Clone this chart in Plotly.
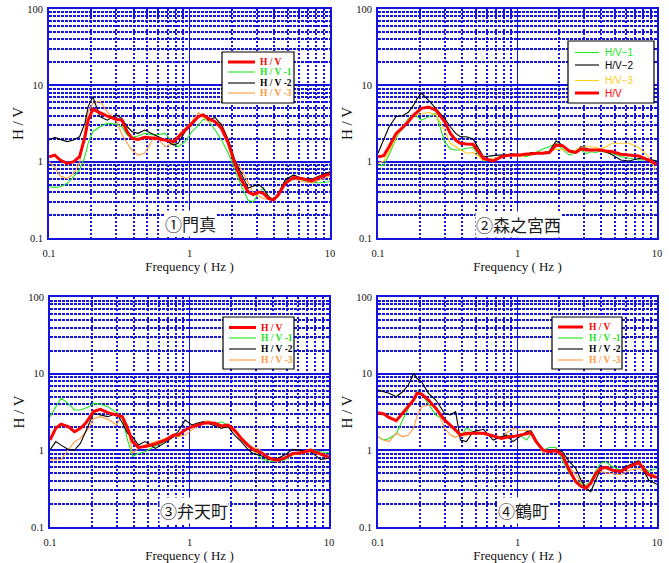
import plotly.graph_objects as go

W, H = 669, 563

# ---------------- data ----------------
freq = [0.10, 0.11, 0.12, 0.135, 0.15, 0.165, 0.18, 0.19, 0.205, 0.23, 0.26, 0.30, 0.33,
        0.36, 0.39, 0.43, 0.48, 0.57, 0.67, 0.77, 0.83, 0.93, 1.04, 1.16, 1.25, 1.36, 1.52,
        1.69, 1.89, 2.1, 2.35, 2.62, 2.85, 3.1, 3.35, 3.65, 3.95, 4.3, 4.8, 5.5, 6.3, 7.4,
        8.7, 10]

# Panel 1  門真
p1_hv = [1.16, 1.22, 1.05, 0.95, 1.0, 1.16, 2.1, 3.5, 4.85, 4.4, 3.96, 3.6, 3.5, 2.47, 2.02,
         1.96, 2.08, 2.02, 1.92, 1.83, 2.08, 2.6, 3.17, 3.9, 4.1, 3.7, 3.34, 2.73, 1.74, 0.95,
         0.57, 0.40, 0.37, 0.40, 0.385, 0.33, 0.315, 0.37, 0.52, 0.62, 0.6, 0.56, 0.64, 0.69]
p1_hv1 = [0.47, 0.46, 0.47, 0.52, 0.64, 0.78, 1.16, 1.74, 2.47, 2.87, 3.17, 3.1, 2.87, 2.23,
          2.08, 2.17, 2.35, 2.23, 2.35, 1.74, 1.57, 1.83, 2.47, 3.02, 3.58, 3.5, 2.6, 1.92,
          1.29, 0.78, 0.47, 0.31, 0.30, 0.385, 0.45, 0.35, 0.315, 0.385, 0.55, 0.62, 0.575,
          0.53, 0.53, 0.55]
p1_hv2 = [1.92, 2.08, 1.96, 1.83, 1.92, 2.12, 3.17, 5.26, 7.1, 3.9, 3.5, 4.08, 3.7, 2.87, 2.47,
          2.35, 2.6, 2.23, 1.92, 1.65, 1.74, 2.47, 3.02, 3.9, 4.2, 3.5, 3.8, 3.02, 1.92, 1.05,
          0.67, 0.45, 0.48, 0.5, 0.45, 0.35, 0.315, 0.385, 0.575, 0.67, 0.6, 0.59, 0.67, 0.74]
p1_hv3 = [1.0, 0.85, 0.65, 0.6, 0.7, 0.95, 2.5, 4.5, 5.8, 6.2, 4.5, 3.5, 2.3, 1.74, 1.42, 1.22,
          1.29, 2.23, 1.57, 1.74, 2.23, 2.73, 3.34, 4.4, 3.9, 3.34, 3.34, 3.17, 1.92, 1.05,
          0.78, 0.52, 0.39, 0.355, 0.33, 0.32, 0.31, 0.35, 0.52, 0.6, 0.55, 0.53, 0.59, 0.64]

# Panel 2  森之宮西
p2_hv = [1.16, 1.2, 1.57, 2.35, 2.79, 3.34, 4.08, 4.43, 5.0, 5.2, 4.75, 3.34, 2.35, 1.92, 1.74,
         1.7, 1.69, 1.1, 1.02, 1.16, 1.2, 1.22, 1.22, 1.26, 1.26, 1.29, 1.29, 1.32, 1.65, 1.62,
         1.38, 1.32, 1.47, 1.42, 1.42, 1.39, 1.42, 1.38, 1.35, 1.25, 1.22, 1.19, 1.05, 0.92]
p2_hv1 = [0.89, 0.9, 1.22, 2.02, 2.87, 3.7, 4.08, 3.9, 3.5, 3.9, 4.3, 1.83, 1.47, 1.42, 1.42,
          1.5, 1.53, 1.02, 1.05, 1.16, 1.16, 1.22, 1.22, 1.16, 1.22, 1.32, 1.47, 1.57, 1.74,
          1.47, 1.22, 1.32, 1.42, 1.27, 1.35, 1.32, 1.38, 1.32, 1.29, 1.16, 1.1, 1.05, 1.05, 0.95]
p2_hv2 = [1.29, 1.92, 2.87, 3.9, 4.0, 4.43, 5.5, 6.6, 7.9, 6.4, 5.0, 3.7, 2.87, 2.35, 2.12,
          2.12, 1.98, 1.16, 1.2, 1.22, 1.24, 1.26, 1.24, 1.22, 1.32, 1.32, 1.32, 1.37, 1.87,
          1.65, 1.35, 1.35, 1.57, 1.5, 1.42, 1.42, 1.39, 1.35, 1.22, 1.05, 1.02, 1.1, 1.08, 1.02]
p2_hv3 = [0.95, 1.02, 1.35, 2.12, 2.87, 3.5, 4.0, 4.08, 4.16, 4.43, 4.08, 2.6, 1.74, 1.57, 1.42,
          1.29, 1.32, 1.05, 1.1, 1.16, 1.2, 1.2, 1.16, 1.22, 1.25, 1.29, 1.32, 1.35, 1.47, 1.42,
          1.38, 1.42, 1.53, 1.57, 1.57, 1.53, 1.47, 1.57, 1.74, 1.74, 1.74, 1.53, 1.16, 0.74]

# Panel 3  弁天町
p3_hv = [1.36, 1.94, 2.2, 2.04, 1.75, 1.94, 2.25, 2.6, 3.2, 3.43, 3.1, 2.89, 2.75, 1.94, 1.3,
         1.09, 1.12, 1.21, 1.36, 1.58, 1.58, 1.84, 2.04, 2.14, 2.25, 2.29, 2.25, 2.08, 2.14,
         1.84, 1.43, 1.17, 1.03, 0.96, 0.91, 0.81, 0.76, 0.75, 0.79, 0.91, 0.93, 1.01, 0.9, 0.81]
p3_hv1 = [2.75, 3.7, 4.77, 4.1, 3.36, 3.36, 3.52, 3.7, 4.1, 4.0, 3.7, 3.1, 2.61, 1.36, 0.83,
          0.91, 0.96, 1.14, 1.3, 1.51, 1.58, 1.84, 2.04, 2.2, 2.36, 2.29, 2.2, 2.36, 2.14, 1.88,
          1.43, 1.17, 1.01, 0.87, 0.76, 0.73, 0.71, 0.73, 0.75, 0.87, 0.96, 1.03, 0.96, 0.93]
p3_hv2 = [1.01, 1.3, 1.17, 1.03, 1.01, 1.23, 1.75, 2.25, 3.04, 2.89, 2.75, 3.04, 2.29, 1.67,
          1.51, 1.17, 1.3, 1.06, 1.26, 1.51, 1.75, 2.49, 2.14, 2.29, 2.36, 2.25, 2.1, 1.94, 2.04,
          1.58, 1.3, 1.03, 0.91, 0.87, 0.84, 0.76, 0.76, 0.79, 0.87, 1.03, 0.99, 0.96, 0.76, 0.79]
p3_hv3 = [0.75, 0.76, 0.76, 1.01, 1.3, 1.43, 1.75, 1.94, 2.61, 2.75, 2.54, 2.14, 2.89, 2.04,
          0.91, 1.06, 1.17, 1.3, 1.43, 1.51, 1.51, 1.58, 1.84, 2.08, 2.36, 2.43, 2.2, 1.94, 2.04,
          1.75, 1.43, 1.2, 1.09, 1.06, 0.93, 0.81, 0.75, 0.71, 0.81, 0.87, 0.91, 0.96, 0.87, 0.87]

# Panel 4  鶴町
p4_hv = [3.1, 2.98, 2.69, 2.44, 3.04, 3.71, 4.53, 5.54, 5.43, 4.53, 3.53, 2.49, 2.14, 1.84,
         1.58, 1.67, 1.67, 1.67, 1.54, 1.43, 1.48, 1.51, 1.58, 1.67, 1.7, 1.3, 1.01, 0.96, 0.99,
         0.87, 0.55, 0.39, 0.34, 0.32, 0.37, 0.5, 0.58, 0.6, 0.55, 0.53, 0.61, 0.69, 0.48, 0.44]
p4_hv1 = [1.51, 1.36, 1.43, 1.63, 2.49, 3.53, 5.0, 5.8, 5.54, 4.1, 2.89, 2.49, 2.08, 1.75, 1.51,
          1.94, 1.75, 1.7, 1.58, 1.48, 1.58, 1.54, 1.58, 1.36, 1.63, 1.3, 1.0, 1.09, 1.09, 0.75,
          0.5, 0.41, 0.37, 0.35, 0.4, 0.55, 0.68, 0.71, 0.61, 0.55, 0.62, 0.68, 0.53, 0.58]
p4_hv2 = [6.1, 5.8, 5.54, 5.0, 5.8, 7.1, 10.1, 8.7, 7.9, 5.54, 4.53, 3.04, 2.89, 3.19, 1.36, 1.3,
          1.75, 1.88, 1.36, 1.51, 1.58, 1.3, 1.51, 1.75, 1.8, 1.36, 1.01, 0.99, 1.03, 0.96, 0.71,
          0.58, 0.41, 0.32, 0.29, 0.41, 0.58, 0.58, 0.55, 0.55, 0.64, 0.73, 0.41, 0.36]
p4_hv3 = [1.51, 1.36, 1.3, 1.67, 1.51, 1.58, 1.94, 2.75, 3.71, 3.9, 3.71, 1.94, 1.58, 1.48, 1.58,
          1.54, 1.75, 1.7, 1.54, 1.43, 1.67, 1.94, 1.8, 1.84, 1.8, 1.3, 0.93, 0.96, 1.01, 0.83,
          0.61, 0.48, 0.39, 0.34, 0.38, 0.48, 0.53, 0.51, 0.5, 0.48, 0.55, 0.58, 0.48, 0.48]

panel_titles = ["①門真", "②森之宮西", "③弁天町", "④鶴町"]
names_serif = ["H / V", "H / V -1", "H / V -2", "H / V -3"]
names_sans = ["H/V−1", "H/V−2", "H/V−3", "H/V"]
x_ticks = [0.1, 1, 10]
y_ticks = [0.1, 1, 10, 100]

# ---------------- styles ----------------
RED, GREEN, BLACK, ORANGE, YELLOW = "#ff0000", "#22e622", "#000000", "#ff9a3c", "#ffcc1a"
GRID = "#1414dc"
SERIF = "Liberation Serif"
SANS = "Liberation Sans"
CJK = "Noto Sans CJK JP"

# series per panel: (name, values, color, width)  -- listed in legend order
panels = [
    dict(series=[(names_serif[0], p1_hv, RED, 3), (names_serif[1], p1_hv1, GREEN, 1.1),
                 (names_serif[2], p1_hv2, BLACK, 1.1), (names_serif[3], p1_hv3, ORANGE, 1.1)],
         draw=[1, 3, 2, 0], font=SERIF, bold=True,
         dom_x=(49, 330), dom_y=(9, 238),
         leg_box=(222, 52, 294, 103), leg_rows=(62, 72, 83, 93), leg_line=(228, 255), leg_text=258,
         label_xy=(190, 223)),
    dict(series=[(names_sans[0], p2_hv1, GREEN, 1.1), (names_sans[1], p2_hv2, BLACK, 1.1),
                 (names_sans[2], p2_hv3, YELLOW, 1.1), (names_sans[3], p2_hv, RED, 3)],
         draw=[0, 1, 2, 3], font=SANS, bold=False,
         dom_x=(378, 657), dom_y=(9, 238),
         leg_box=(568, 41, 654, 103), leg_rows=(52.5, 65, 80.5, 93), leg_line=(575, 599), leg_text=603,
         label_xy=(518, 224)),
    dict(series=[(names_serif[0], p3_hv, RED, 3), (names_serif[1], p3_hv1, GREEN, 1.1),
                 (names_serif[2], p3_hv2, BLACK, 1.1), (names_serif[3], p3_hv3, ORANGE, 1.1)],
         draw=[1, 3, 2, 0], font=SERIF, bold=True,
         dom_x=(50, 329), dom_y=(297, 527),
         leg_box=(223, 317, 294, 369), leg_rows=(327.5, 338, 349, 360), leg_line=(229, 256), leg_text=259,
         label_xy=(194, 510)),
    dict(series=[(names_serif[0], p4_hv, RED, 3), (names_serif[1], p4_hv1, GREEN, 1.1),
                 (names_serif[2], p4_hv2, BLACK, 1.1), (names_serif[3], p4_hv3, ORANGE, 1.1)],
         draw=[1, 3, 2, 0], font=SERIF, bold=True,
         dom_x=(378, 657), dom_y=(297, 527),
         leg_box=(552, 317, 622, 369), leg_rows=(327, 338, 349, 360), leg_line=(558, 583), leg_text=587,
         label_xy=(523, 510)),
]


def px(x):
    return x / W


def py(y):
    return 1 - y / H


fig = go.Figure()
shapes, annotations = [], []

for i, p in enumerate(panels):
    k = "" if i == 0 else str(i + 1)
    for j in p["draw"]:
        name, vals, color, width = p["series"][j]
        fig.add_trace(go.Scatter(x=freq, y=vals, mode="lines", name=name,
                                 line=dict(color=color, width=width, shape="linear"),
                                 xaxis="x" + k, yaxis="y" + k, showlegend=False,
                                 hoverinfo="skip"))

    axis_common = dict(type="log", showline=True, linecolor=GRID, linewidth=1.6, mirror=True,
                       ticks="", zeroline=False, showgrid=True, gridcolor=GRID, automargin=False,
                       tickfont=dict(family=SERIF, size=10.5, color="#111"))
    fig.layout["xaxis" + k] = dict(
        axis_common, domain=[px(p["dom_x"][0]), px(p["dom_x"][1])], range=[-1, 1],
        anchor="y" + k, tickmode="array", tickvals=x_ticks, ticktext=["0.1", "1", "10"],
        gridwidth=1.2, ticklabelstandoff=5,
        minor=dict(tickmode="array",
                   tickvals=[m * d for d in (0.1, 1) for m in range(2, 10)],
                   showgrid=True, gridcolor=GRID, gridwidth=1.6, griddash="2px,2px", ticks=""),
        title=dict(text="Frequency ( Hz )", font=dict(family=SERIF, size=13, color="#111"),
                   standoff=0))
    fig.layout["yaxis" + k] = dict(
        axis_common, domain=[py(p["dom_y"][1]), py(p["dom_y"][0])], range=[-1, 2],
        anchor="x" + k, tickmode="array", tickvals=y_ticks,
        ticktext=["0.1", "1", "10", "100"], gridwidth=2, ticklabelstandoff=2,
        minor=dict(tickmode="array",
                   tickvals=[m * d for d in (0.1, 1, 10) for m in range(2, 10)],
                   showgrid=True, gridcolor=GRID, gridwidth=1.6, griddash="3px,1px", ticks=""),
        title=dict(text="H / V", font=dict(family=SERIF, size=15, color="#111"), standoff=0))

    # legend box
    x0, y0, x1, y1 = p["leg_box"]
    shapes.append(dict(type="rect", xref="paper", yref="paper", x0=px(x0), x1=px(x1),
                       y0=py(y1), y1=py(y0), fillcolor="white",
                       line=dict(color="black", width=1.2), layer="above"))
    for (name, vals, color, width), ry in zip(p["series"], p["leg_rows"]):
        shapes.append(dict(type="line", xref="paper", yref="paper",
                           x0=px(p["leg_line"][0]), x1=px(p["leg_line"][1]),
                           y0=py(ry), y1=py(ry), line=dict(color=color, width=width),
                           layer="above"))
        txt = "<b>%s</b>" % name if p["bold"] else name
        annotations.append(dict(xref="paper", yref="paper", x=px(p["leg_text"]), y=py(ry),
                                xanchor="left", yanchor="middle", showarrow=False, text=txt,
                                font=dict(family=p["font"], size=10 if not p["bold"] else 9.5,
                                          color=color)))
    # panel label
    lx, ly = p["label_xy"]
    annotations.append(dict(xref="paper", yref="paper", x=px(lx), y=py(ly), xanchor="center",
                            yanchor="middle", showarrow=False, text=panel_titles[i],
                            font=dict(family=CJK, size=17, color="#1a1a1a"),
                            bgcolor="white", borderpad=0))

fig.update_layout(width=W, height=H, margin=dict(l=0, r=0, t=0, b=0),
                  paper_bgcolor="white", plot_bgcolor="white", showlegend=False,
                  shapes=shapes, annotations=annotations)

fig.write_html("out.html", config={"displayModeBar": False},
               post_script="document.body.style.margin='0';")
